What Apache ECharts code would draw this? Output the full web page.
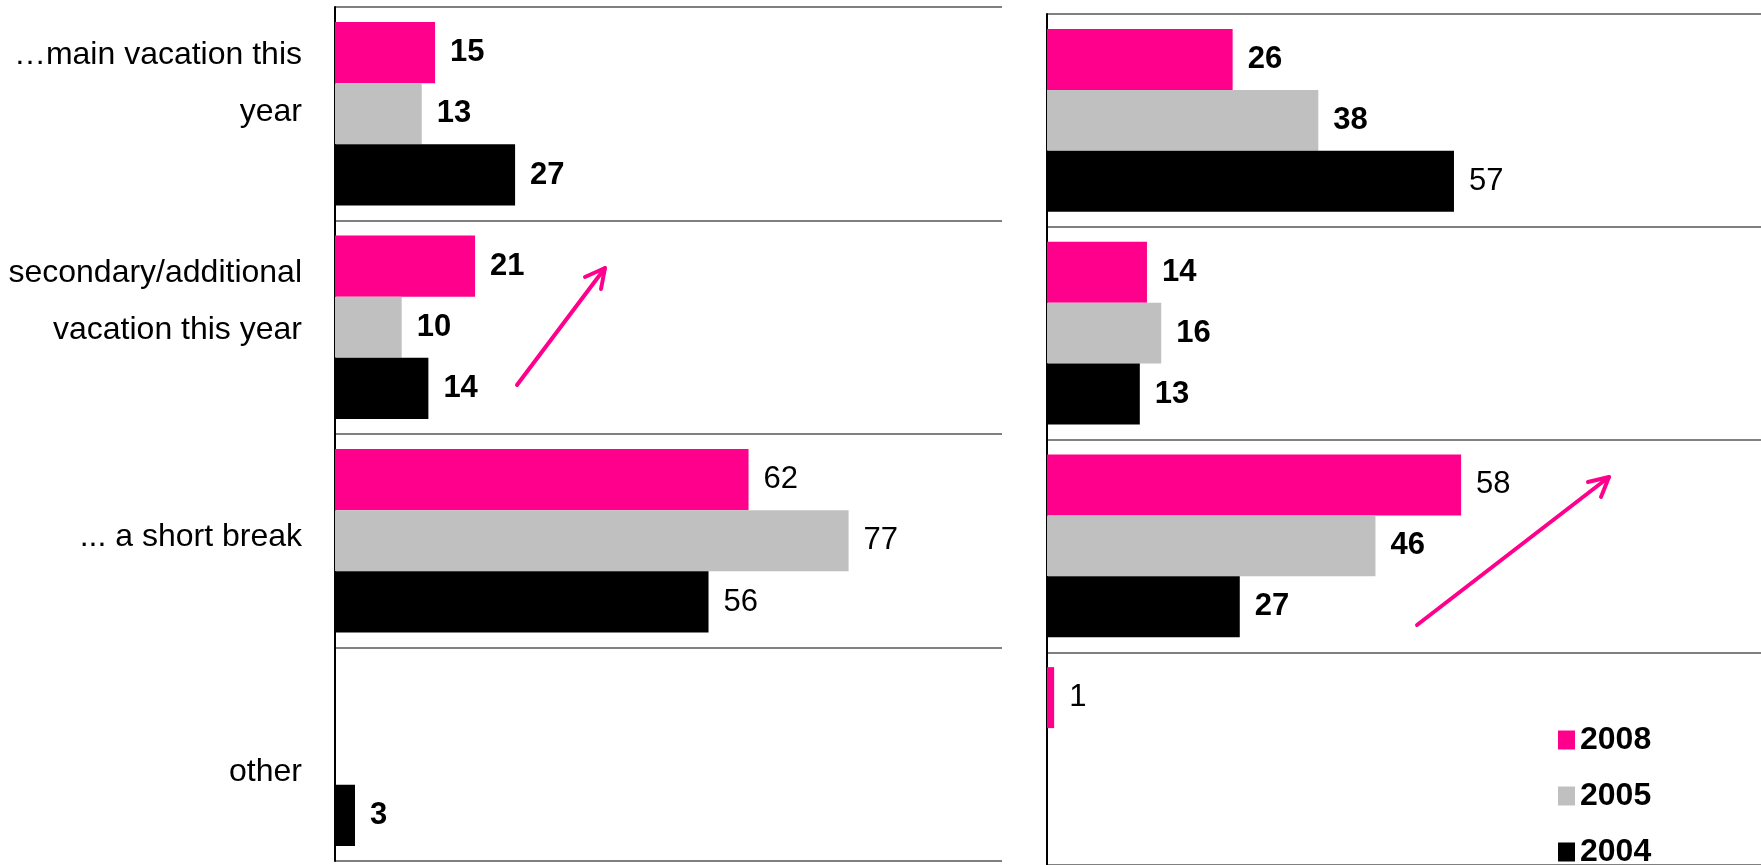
<!DOCTYPE html>
<html>
<head>
<meta charset="utf-8">
<script src="https://cdn.jsdelivr.net/npm/echarts@6/dist/echarts.min.js"></script>
<style>
  html, body { margin: 0; padding: 0; background: #fff; }
  #grafico { width: 1761px; height: 865px; }
</style>
</head>
<body>
<div id="grafico"></div>
<script>
// Datos
const categorias = [
    '…main vacation this\nyear',
    'secondary/additional\nvacation this year',
    '... a short break',
    'other'
];
const anios = ['2008', '2005', '2004'];

// panel izquierdo
const izq2008 = [15, 21, 62, null];
const izq2005 = [13, 10, 77, null];
const izq2004 = [27, 14, 56, 3];

// panel derecho
const der2008 = [26, 14, 58, 1];
const der2005 = [38, 16, 46, null];
const der2004 = [57, 13, 27, null];

// estilo: en el original algunas etiquetas se ven más gruesas (B) que otras (N)
const pesoIzq2008 = ['B', 'B', 'N', 'N'];
const pesoIzq2005 = ['B', 'B', 'N', 'N'];
const pesoIzq2004 = ['B', 'B', 'N', 'B'];
const pesoDer2008 = ['B', 'B', 'N', 'N'];
const pesoDer2005 = ['B', 'B', 'B', 'N'];
const pesoDer2004 = ['N', 'B', 'B', 'N'];

const colores = { '2008': '#ff008c', '2005': '#c0c0c0', '2004': '#000000' };
const fuente = "'Liberation Sans', Arial, sans-serif";

// desplazamiento vertical de cada etiqueta de categoría
const estilosEtiqueta = ['c0', 'c1', 'c2', 'c3'];

function crearSerie(nombre, datos, pesos, indice) {
    return {
        name: nombre,
        type: 'bar',
        xAxisIndex: indice,
        yAxisIndex: indice,
        data: datos.map((v, i) => ({
            value: v,
            label: { fontWeight: pesos[i] === 'B' ? 'bold' : 'normal' }
        })),
        barGap: 0,
        barCategoryGap: '14%',
        itemStyle: { color: colores[nombre] },
        label: {
            show: true,
            position: 'right',
            distance: 15,
            color: '#000',
            fontFamily: fuente,
            fontSize: 31
        },
        emphasis: { disabled: true }
    };
}

function estiloRich(padding) {
    return { fontFamily: fuente, fontSize: 32, color: '#000', lineHeight: 57, align: 'right', padding: padding };
}

function ejeCategoria(indice, mostrarEtiquetas) {
    return {
        type: 'category',
        gridIndex: indice,
        inverse: true,
        data: categorias,
        axisLine: { show: true, lineStyle: { color: '#000', width: 2 } },
        axisTick: { show: false },
        splitLine: { show: true, interval: 0, lineStyle: { color: '#808080', width: 2 } },
        axisLabel: {
            show: mostrarEtiquetas,
            interval: 0,
            margin: 33,
            align: 'right',
            formatter: function (valor, i) {
                return valor.split('\n').map(l => '{' + estilosEtiqueta[i] + '|' + l + '}').join('\n');
            },
            rich: {
                c0: estiloRich([0, 0, 60, 0]),
                c1: estiloRich([0, 0, 52, 0]),
                c2: estiloRich([0, 0, 8, 0]),
                c3: estiloRich([35, 0, 0, 0])
            }
        }
    };
}

function flecha(x1, y1, x2, y2, a1, a2) {
    const estilo = { stroke: '#ff008c', lineWidth: 4, lineCap: 'round', lineJoin: 'round' };
    return [
        { type: 'line', shape: { x1: x1, y1: y1, x2: x2, y2: y2 }, style: estilo, silent: true },
        { type: 'polyline', shape: { points: [a1, [x2, y2], a2] }, style: Object.assign({ fill: null }, estilo), silent: true }
    ];
}

function crearGrafico() {
    return {
        animation: false,
        backgroundColor: '#fff',
        grid: [
            { left: 335, top: 7, width: 667, height: 854 },
            { left: 1047, top: 14, width: 714, height: 854 }
        ],
        xAxis: [
            { type: 'value', gridIndex: 0, min: 0, max: 100, show: false },
            { type: 'value', gridIndex: 1, min: 0, max: 100, show: false }
        ],
        yAxis: [ejeCategoria(0, true), ejeCategoria(1, false)],
        legend: {
            data: anios,
            orient: 'vertical',
            left: 1558,
            top: 724,
            width: 200,
            height: 200,
            padding: 0,
            icon: 'rect',
            itemWidth: 17,
            itemHeight: 19,
            itemGap: 24,
            selectedMode: false,
            textStyle: { fontFamily: fuente, fontSize: 32, fontWeight: 'bold', color: '#000', lineHeight: 32 }
        },
        series: [
            crearSerie('2008', izq2008, pesoIzq2008, 0),
            crearSerie('2005', izq2005, pesoIzq2005, 0),
            crearSerie('2004', izq2004, pesoIzq2004, 0),
            crearSerie('2008', der2008, pesoDer2008, 1),
            crearSerie('2005', der2005, pesoDer2005, 1),
            crearSerie('2004', der2004, pesoDer2004, 1)
        ],
        graphic: [].concat(
            flecha(517, 385, 605, 268, [585, 277], [601, 289]),
            flecha(1417, 625, 1609, 477, [1588, 482], [1601, 497])
        )
    };
}

const myChart = echarts.init(document.getElementById('grafico'), null, { renderer: 'canvas' });
myChart.setOption(crearGrafico());
</script>
</body>
</html>
